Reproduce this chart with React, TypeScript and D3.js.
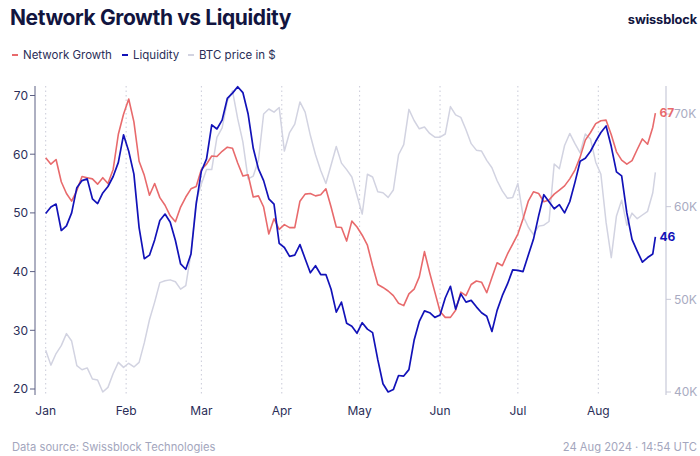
import React from "react";
import * as d3 from "d3";

const dayOffsets: number[] = [...d3.range(0, 235, 2), 235];

const networkGrowth: number[] = [
  59.4, 58.3, 59.1, 55.3, 53.3, 52.0, 53.8, 56.2, 56.0, 55.8,
  54.9, 56.0, 55.0, 57.4, 63.4, 66.8, 69.4, 65.5, 58.8, 56.4,
  53.0, 55.0, 52.6, 51.3, 49.5, 48.5, 51.0, 52.7, 54.1, 54.5,
  57.4, 58.3, 59.7, 59.6, 60.5, 61.2, 61.0, 58.5, 56.3, 56.5,
  52.7, 52.9, 51.0, 46.4, 49.0, 47.2, 48.0, 47.5, 47.5, 52.0,
  53.2, 53.3, 52.9, 53.1, 54.1, 51.0, 47.6, 47.5, 45.2, 48.6,
  47.6, 46.2, 44.5, 41.0, 37.8, 37.3, 36.7, 35.9, 34.6, 34.2,
  36.2, 37.0, 39.1, 43.4, 39.8, 36.5, 33.2, 32.2, 32.2, 33.4,
  36.5, 35.9, 37.8, 38.4, 38.2, 36.4, 39.0, 41.5, 41.0, 43.0,
  44.7, 46.4, 49.0, 52.0, 53.6, 53.3, 51.9, 52.2, 53.2, 53.9,
  54.6, 55.8, 57.3, 59.5, 62.4, 63.7, 65.2, 65.7, 65.8, 63.3,
  60.4, 59.0, 58.3, 58.9, 60.8, 62.6, 61.7, 64.6,
  67.0,
];

const liquidity: number[] = [
  49.9, 51.0, 51.5, 47.0, 47.8, 50.0, 54.3, 55.5, 55.8, 52.4,
  51.6, 53.4, 54.5, 56.2, 58.6, 63.3, 60.5, 56.6, 47.5, 42.2,
  42.8, 45.4, 48.7, 49.8, 48.4, 45.3, 41.3, 40.4, 43.0, 51.5,
  57.1, 59.2, 65.0, 64.3, 65.8, 69.5, 70.4, 71.5, 70.5, 66.9,
  61.0, 57.5, 55.5, 52.4, 51.5, 44.8, 44.1, 42.6, 42.8, 44.6,
  42.2, 39.8, 41.0, 39.5, 39.5, 37.0, 33.1, 34.8, 31.2, 30.7,
  29.5, 31.3, 30.2, 29.6, 25.0, 20.9, 19.5, 19.9, 22.3, 22.2,
  23.3, 28.3, 31.5, 33.3, 33.0, 32.2, 32.6, 35.5, 37.5, 33.6,
  36.2, 34.8, 35.1, 34.0, 33.0, 32.4, 29.8, 33.4, 35.9, 37.9,
  40.3, 40.2, 40.0, 42.8, 45.5, 49.5, 53.1, 51.9, 50.7, 51.4,
  50.0, 51.9, 55.2, 58.8, 59.3, 60.5, 62.2, 63.7, 64.8, 61.3,
  57.0, 56.3, 50.0, 45.5, 43.5, 41.6, 42.4, 43.0,
  45.9,
];

const btcPrice: number[] = [
  44500, 42900, 44150, 45000, 46300, 45500, 42840, 42400, 42600, 41400,
  41300, 40000, 40500, 42000, 43200, 42660, 43100, 42700, 43200, 45300,
  47800, 49700, 51800, 52000, 52100, 51900, 51100, 51480, 55000, 60600,
  62440, 64000, 64000, 67480, 68500, 71400, 72500, 69500, 67000, 63000,
  63300, 65000, 70000, 70540, 70200, 70700, 66000, 68000, 68900, 71300,
  70200, 67700, 65600, 63900, 62500, 64500, 66500, 64700, 64000, 63200,
  61200, 59200, 63500, 63200, 61600, 61500, 61000, 61800, 65600, 66700,
  70500, 69300, 68400, 68600, 67900, 67500, 67500, 67840, 70800, 69900,
  69640, 68300, 66800, 66100, 66000, 65000, 64200, 62800, 61700, 60900,
  61000, 62500, 59000, 57800, 57000, 57900, 58000, 58400, 64600, 64100,
  66600, 67900, 66800, 65800, 67840, 67300, 64800, 63500, 58300, 54500,
  59000, 60700, 58000, 59300, 58700, 59100, 59500, 61500,
  63700,
];

const leftTicks: number[] = [20, 30, 40, 50, 60, 70];
const rightTicks: number[] = [40000, 50000, 60000, 70000];

const seriesNames = ["Network Growth", "Liquidity", "BTC price in $"];

const START = new Date(Date.UTC(2024, 0, 1));
const FONT = "Inter, 'Noto Sans', sans-serif";
const RED = "#e86a6c";
const BLUE = "#1212b8";
const GREY = "#d2d3e1";
const NAVY = "#12153f";

export default function App() {
  const W = 700;
  const H = 456;
  const top = 86;
  const bottom = 395;
  const leftX = 35;
  const rightX = 666;

  const x = d3
    .scaleUtc()
    .domain([START, new Date(Date.UTC(2024, 7, 1))])
    .range([45.7, 598.3]);
  const yL = d3.scaleLinear().domain([20, 70]).range([389, 95.5]);
  const yR = d3.scaleLinear().domain([40000, 70000]).range([392, 114]);

  const dates = dayOffsets.map((d) => d3.utcDay.offset(START, d));
  const months = d3.utcMonth.range(START, new Date(Date.UTC(2024, 7, 2)));
  const fmt = d3.utcFormat("%b");

  const lineL = d3
    .line<number>()
    .x((_, i) => x(dates[i]))
    .y((v) => yL(v));
  const lineR = d3
    .line<number>()
    .x((_, i) => x(dates[i]))
    .y((v) => yR(v));

  const lastX = x(dates[dates.length - 1]);
  const lastRed = networkGrowth[networkGrowth.length - 1];
  const lastBlue = liquidity[liquidity.length - 1];

  const legendItems = [
    { name: seriesNames[0], color: RED, x: 12 },
    { name: seriesNames[1], color: BLUE, x: 122 },
    { name: seriesNames[2], color: GREY, x: 188 },
  ];

  return (
    <svg
      width={W}
      height={H}
      style={{ position: "absolute", left: 0, top: 0, background: "#fff" }}
      fontFamily={FONT}
    >
      <rect width={W} height={H} fill="#fff" />
      <text x={10} y={25} fontSize={21} fontWeight={700} fill={NAVY} letterSpacing={-0.4}>
        Network Growth vs Liquidity
      </text>
      <text x={697} y={24} fontSize={12.8} fontWeight={700} fill={NAVY} textAnchor="end" letterSpacing={-0.1}>
        swissblock
      </text>

      {legendItems.map((it) => (
        <g key={it.name}>
          <line x1={it.x} x2={it.x + 6} y1={55} y2={55} stroke={it.color} strokeWidth={2} />
          <text x={it.x + 11} y={59} fontSize={11.5} fill="#2b2e58">
            {it.name}
          </text>
        </g>
      ))}

      {months.map((m) => (
        <g key={m.toISOString()}>
          <line
            x1={x(m)}
            x2={x(m)}
            y1={top}
            y2={bottom}
            stroke="#c9cad8"
            strokeWidth={1}
            strokeDasharray="1.5,3"
          />
          <text x={x(m)} y={415} fontSize={12} fill="#2b2e58" textAnchor="middle">
            {fmt(m)}
          </text>
        </g>
      ))}

      <line x1={leftX} x2={leftX} y1={top} y2={bottom} stroke="#5d6084" strokeWidth={1} />
      {leftTicks.map((t) => (
        <g key={t}>
          <line x1={leftX - 5} x2={leftX} y1={yL(t)} y2={yL(t)} stroke="#5d6084" />
          <text x={leftX - 7} y={yL(t) + 4.3} fontSize={12} fill="#2b2e58" textAnchor="end">
            {t}
          </text>
        </g>
      ))}

      <line x1={rightX} x2={rightX} y1={top} y2={bottom} stroke="#d3d4e0" strokeWidth={1.5} />
      {rightTicks.map((t) => (
        <g key={t}>
          <line x1={rightX} x2={rightX + 5} y1={yR(t)} y2={yR(t)} stroke="#c8c9d8" />
          <text x={rightX + 8} y={yR(t) + 4.3} fontSize={12} fill="#a9abc2">
            {t / 1000 + "K"}
          </text>
        </g>
      ))}

      <path d={lineR(btcPrice) || ""} fill="none" stroke={GREY} strokeWidth={1.5} strokeLinejoin="round" />
      <path d={lineL(networkGrowth) || ""} fill="none" stroke={RED} strokeWidth={1.6} strokeLinejoin="round" />
      <path d={lineL(liquidity) || ""} fill="none" stroke={BLUE} strokeWidth={1.7} strokeLinejoin="round" />

      <text x={lastX + 4} y={yL(lastRed) + 4.3} fontSize={12} fontWeight={700} fill={RED}>
        {Math.round(lastRed)}
      </text>
      <text x={lastX + 4} y={yL(lastBlue) + 4.3} fontSize={12} fontWeight={700} fill={BLUE}>
        {Math.round(lastBlue)}
      </text>

      <text x={12} y={451} fontSize={11.2} fill="#a3a6bd">
        Data source: Swissblock Technologies
      </text>
      <text x={697} y={451} fontSize={11.2} fill="#a3a6bd" textAnchor="end">
        24 Aug 2024 · 14:54 UTC
      </text>
    </svg>
  );
}
